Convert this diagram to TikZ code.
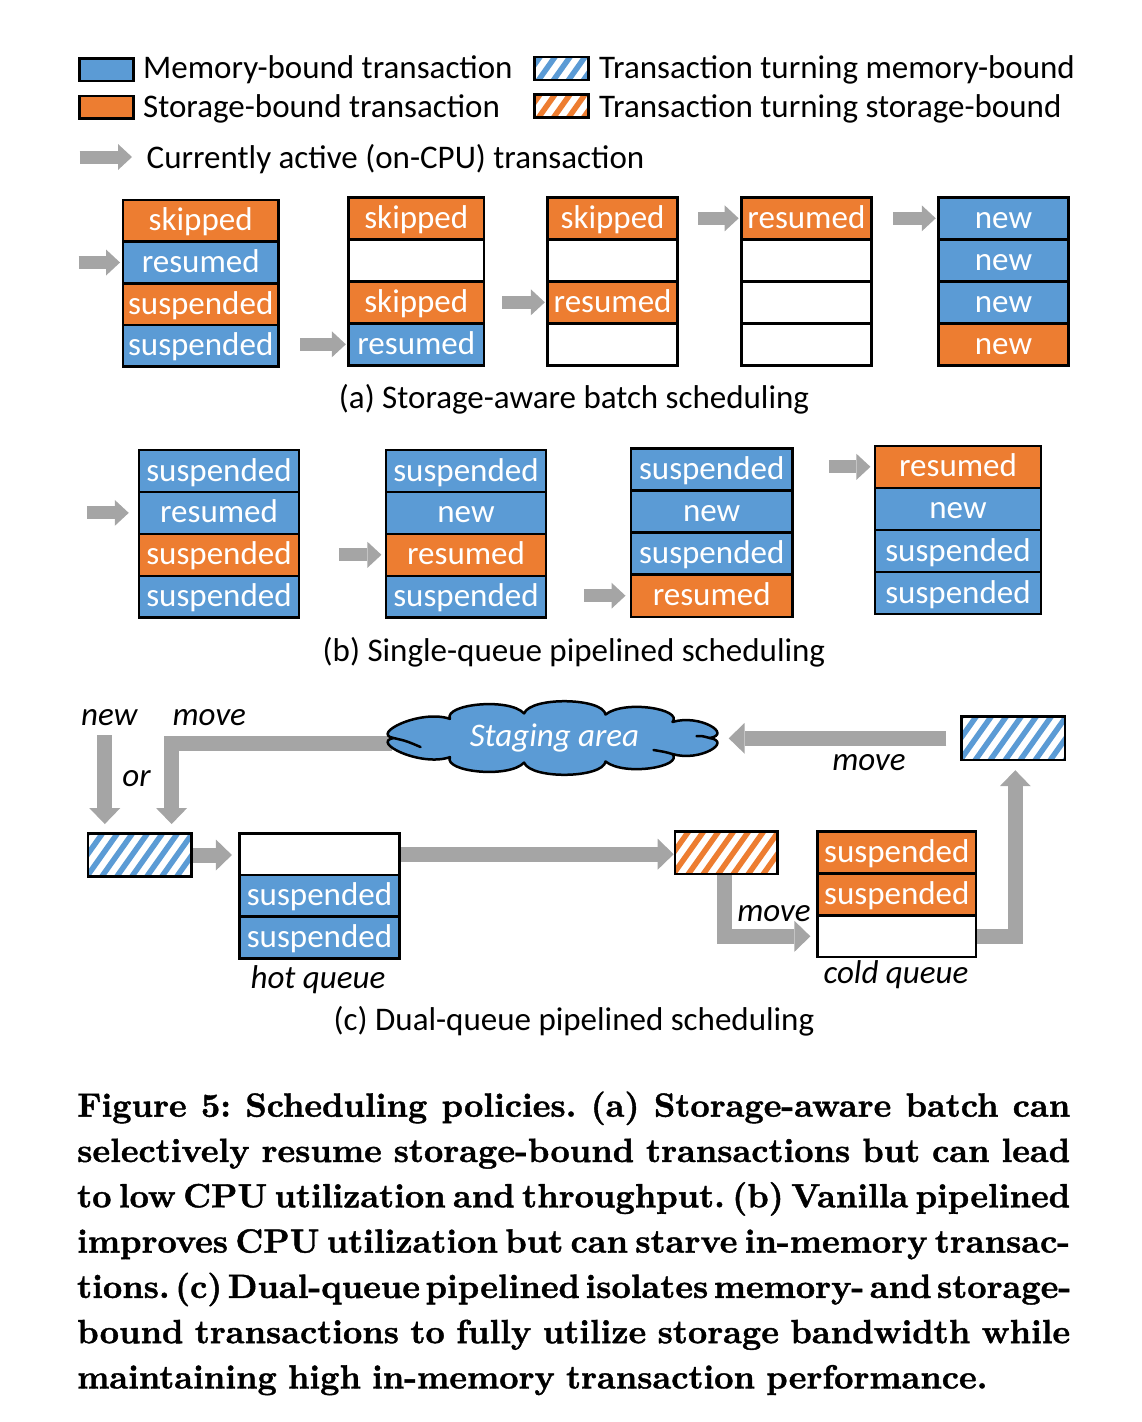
\documentclass[tikz,border=0pt]{standalone}
\usepackage{fontspec}
\newfontfamily\calibri{Carlito}
\newfontfamily\capserif{lmroman10-bold}[Extension=.otf, FakeBold=1.2]
\usetikzlibrary{arrows.meta,backgrounds,calc}
\definecolor{mblue}{HTML}{5B9BD5}
\definecolor{sorange}{HTML}{ED7D31}
\definecolor{agray}{HTML}{A5A5A5}
\newcommand{\dfont}{\calibri\fontsize{33}{40}\selectfont}
\newcommand{\cfont}{\capserif\fontsize{33.6}{45.3}\selectfont\frenchspacing\spaceskip=0.333em plus 1em minus 0.17em\relax}
\begin{document}
\begin{tikzpicture}[x=1pt,y=-1pt,
  cell/.style={draw=black, line width=2.5pt, inner sep=0pt, text=white, font=\dfont, text height=25pt, text depth=5pt},
  cb/.style={cell, fill=mblue},
  co/.style={cell, fill=sorange},
  ce/.style={cell, fill=white},
  sz/.style 2 args={minimum width=#1pt, minimum height=#2pt},
  hatch/.style={draw=black, line width=2.5pt, fill=white, inner sep=0pt,
    path picture={\foreach \k in {-10,...,10}{\draw[draw=#1, line width=5.5pt] ([xshift=\k*15pt, yshift=-10pt]path picture bounding box.south) -- ++(44pt,62pt);}}},
  legbox/.style={draw=black, line width=2.5pt, inner sep=0pt, minimum width=54pt, minimum height=22.5pt},
  lab/.style={font=\dfont, inner sep=0pt, anchor=base west},
  ilab/.style={font=\dfont\itshape, inner sep=0pt, anchor=base},
  sub/.style={font=\dfont, inner sep=0pt, anchor=base},
  capl/.style={font=\cfont, inner sep=0pt, anchor=base west},
  sarrow/.style={draw=agray, line width=13pt, -{Triangle[width=26pt,length=14pt,line width=0pt]}},
  carrow/.style={draw=agray, line width=15pt, line join=miter, -{Triangle[width=31pt,length=16pt,line width=0pt]}},
  cloudline/.style={draw=black, line width=2.5pt, line cap=round},
  cloudbody/.style={draw=black, line width=2.5pt, fill=mblue, line join=round}
]
\useasboundingbox (0,0) rectangle (1142,1422);

% ---------- legend ----------
\node[legbox, fill=mblue] (lgm) at (106.5,69.5) {};
\node[lab] (lgmt) at (143,78) {Memory-bound transaction};
\node[legbox, fill=sorange] (lgs) at (106.5,107) {};
\node[lab] (lgst) at (143,117.5) {Storage-bound transaction};
\node[hatch=mblue, sz={54}{23}] (lghm) at (561.5,68.5) {};
\node[lab] (lghmt) at (599,78) {Transaction turning memory-bound};
\node[hatch=sorange, sz={54}{23}] (lghs) at (561.5,106) {};
\node[lab] (lghst) at (599,117.5) {Transaction turning storage-bound};
\coordinate (lga1) at (79.6,157);
\coordinate (lga2) at (132,157);
\draw[sarrow] (lga1) -- (lga2);
\node[lab] (lgat) at (146.5,168) {Currently active (on-CPU) transaction};

% ---------- (a) ----------
\node[co, sz={155.8}{41.7}] (a1c1) at (200.7,220.8) {skipped};
\node[cb, sz={155.8}{41.7}] (a1c2) at (200.7,262.5) {resumed};
\node[co, sz={155.8}{41.7}] (a1c3) at (200.7,304.2) {suspended};
\node[cb, sz={155.8}{41.7}] (a1c4) at (200.7,345.8) {suspended};

\node[co, sz={135.4}{42}] (a2c1) at (416.3,218.3) {skipped};
\node[ce, sz={135.4}{42}] (a2c2) at (416.3,260.3) {};
\node[co, sz={135.4}{42}] (a2c3) at (416.3,302.3) {skipped};
\node[cb, sz={135.4}{42}] (a2c4) at (416.3,344.3) {resumed};

\node[co, sz={130}{42}] (a3c1) at (612.6,218.3) {skipped};
\node[ce, sz={130}{42}] (a3c2) at (612.6,260.3) {};
\node[co, sz={130}{42}] (a3c3) at (612.6,302.3) {resumed};
\node[ce, sz={130}{42}] (a3c4) at (612.6,344.3) {};

\node[co, sz={130}{42}] (a4c1) at (806.4,218.3) {resumed};
\node[ce, sz={130}{42}] (a4c2) at (806.4,260.3) {};
\node[ce, sz={130}{42}] (a4c3) at (806.4,302.3) {};
\node[ce, sz={130}{42}] (a4c4) at (806.4,344.3) {};

\node[cb, sz={130}{42}] (a5c1) at (1003.5,218.3) {new};
\node[cb, sz={130}{42}] (a5c2) at (1003.5,260.3) {new};
\node[cb, sz={130}{42}] (a5c3) at (1003.5,302.3) {new};
\node[co, sz={130}{42}] (a5c4) at (1003.5,344.3) {new};

\draw[sarrow, shorten >=1.5pt] ($(a1c2.west)+(-43,0)$) coordinate (aa1) -- (a1c2.west);
\draw[sarrow, shorten >=1.5pt] ($(a2c4.west)+(-47,0)$) coordinate (aa2) -- (a2c4.west);
\draw[sarrow, shorten >=1.5pt] ($(a3c3.west)+(-44,0)$) coordinate (aa3) -- (a3c3.west);
\draw[sarrow, shorten >=1.5pt] ($(a4c1.west)+(-42,0)$) coordinate (aa4) -- (a4c1.west);
\draw[sarrow, shorten >=1.5pt] ($(a5c1.west)+(-44.4,0)$) coordinate (aa5) -- (a5c1.west);

\node[sub] (capa) at (574,408) {(a) Storage-aware batch scheduling};

% ---------- (b) ----------
\node[cb, sz={160}{41.9}] (b1c1) at (219,471) {suspended};
\node[cb, sz={160}{41.9}] (b1c2) at (219,512.9) {resumed};
\node[co, sz={160}{41.9}] (b1c3) at (219,554.8) {suspended};
\node[cb, sz={160}{41.9}] (b1c4) at (219,596.7) {suspended};

\node[cb, sz={160}{41.9}] (b2c1) at (466,471) {suspended};
\node[cb, sz={160}{41.9}] (b2c2) at (466,512.9) {new};
\node[co, sz={160}{41.9}] (b2c3) at (466,554.8) {resumed};
\node[cb, sz={160}{41.9}] (b2c4) at (466,596.7) {suspended};

\node[cb, sz={161.3}{42.1}] (b3c1) at (711.7,469.4) {suspended};
\node[cb, sz={161.3}{42.1}] (b3c2) at (711.7,511.5) {new};
\node[cb, sz={161.3}{42.1}] (b3c3) at (711.7,553.6) {suspended};
\node[co, sz={161.3}{42.1}] (b3c4) at (711.7,595.7) {resumed};

\node[co, sz={166}{42.1}] (b4c1) at (958,466.8) {resumed};
\node[cb, sz={166}{42.1}] (b4c2) at (958,508.9) {new};
\node[cb, sz={166}{42.1}] (b4c3) at (958,551) {suspended};
\node[cb, sz={166}{42.1}] (b4c4) at (958,593.1) {suspended};

\draw[sarrow, shorten >=9pt] ($(b1c2.west)+(-51,0)$) coordinate (ba1) -- (b1c2.west);
\draw[sarrow, shorten >=3.3pt] ($(b2c3.west)+(-46,0)$) coordinate (ba2) -- (b2c3.west);
\draw[sarrow, shorten >=4.3pt] ($(b3c4.west)+(-46,0)$) coordinate (ba3) -- (b3c4.west);
\draw[sarrow, shorten >=3.3pt] ($(b4c1.west)+(-45,0)$) coordinate (ba4) -- (b4c1.west);

\node[sub] (capb) at (574,661) {(b) Single-queue pipelined scheduling};

% ---------- (c) ----------
\node[hatch=mblue, sz={103.5}{43.4}] (hb1) at (139.6,855) {};
\node[ce, sz={159.7}{41.7}] (hq1) at (319.5,854.2) {};
\node[cb, sz={159.7}{41.7}] (hq2) at (319.5,895.8) {suspended};
\node[cb, sz={159.7}{41.7}] (hq3) at (319.5,937.5) {suspended};
\node[hatch=sorange, sz={102.7}{42.3}] (ho) at (726.3,852.8) {};
\node[co, sz={158.3}{41.7}] (cq1) at (896.8,852.5) {suspended};
\node[co, sz={158.3}{41.7}] (cq2) at (896.8,894.5) {suspended};
\node[ce, sz={158.3}{41.7}] (cq3) at (896.8,936.3) {};
\node[hatch=mblue, sz={103.3}{43.3}] (hb2) at (1013.3,738.3) {};

% staging area: anchor frame, cloud outline, inner strokes, label
\node[inner sep=0pt, minimum width=338pt, minimum height=75pt] (stage) at (551.5,738) {};
\draw[cloudbody] ($(stage.center)+(0:158 and 25)$)
  \foreach \ta/\tb in {0/40,40/70,70/100,100/130,130/180,180/230,230/260,260/290,290/320,320/360}{
    .. controls ($(stage.center)+({\ta+0.12*(\tb-\ta)}:182 and 42)$) and ($(stage.center)+({\tb-0.12*(\tb-\ta)}:182 and 42)$) .. ($(stage.center)+(\tb:158 and 25)$)
  } -- cycle;
\draw[cloudline] ($(stage.center)+(180:158 and 25)$) .. controls ($(stage.center)+(-145,3)$) .. ($(stage.center)+(-131,9)$);
\draw[cloudline] ($(stage.center)+(0:158 and 25)$) .. controls ($(stage.center)+(151,-2)$) .. ($(stage.center)+(145,-2)$);
\draw[cloudline] ($(stage.center)+(40:158 and 25)$) .. controls ($(stage.center)+(114,14)$) .. ($(stage.center)+(102,12)$);
\node[font=\dfont\itshape, text=white, inner sep=0pt] (stagetext) at ($(stage.center)+(3,0)$) {Staging area};

\node[ilab] (lnew) at (109.3,725) {new};
\node[ilab] (lmove1) at (209.3,725) {move};
\node[ilab] (lor) at (136.5,786.7) {or};
\node[ilab] (lmove2) at (869,770) {move};
\node[ilab] (lmove3) at (774,921) {move};
\node[ilab] (lhot) at (318,988) {hot queue};
\node[ilab] (lcold) at (896,983) {cold queue};
\node[sub] (capc) at (574,1030) {(c) Dual-queue pipelined scheduling};

\begin{scope}[on background layer]
\coordinate (newsrc) at (104.8,735);
\draw[carrow, shorten >=8pt] (newsrc) -- (newsrc |- hb1.north);
\draw[carrow, shorten >=8pt] ($(stage.west)+(10,5)$) -| ($(hb1.north east)+(-21,0)$);
\draw[carrow, shorten >=6.5pt] (hb1.east) -- (hb1.east -| hq1.west);
\draw[carrow] (hq1.east) -- (hq1.east -| ho.west);
\draw[carrow, shorten >=6pt] ($(ho.south)+(-2,0)$) |- (cq3.west);
\draw[carrow, shorten >=9pt] (cq3.east) -| ($(hb2.south)+(2,0)$);
\draw[carrow, shorten <=14pt, shorten >=8pt] (hb2.west) -- (hb2.west -| stage.east);
\end{scope}

% ---------- caption ----------
\node[capl] (cap1) at (77,1116.7) {\makebox[993pt][s]{Figure 5: Scheduling policies. (a) Storage-aware batch can}};
\node[capl] (cap2) at (77,1162) {\makebox[993pt][s]{selectively resume storage-bound transactions but can lead}};
\node[capl] (cap3) at (77,1207.3) {\makebox[993pt][s]{to low CPU utilization and throughput. (b) Vanilla pipelined}};
\node[capl] (cap4) at (77,1252.6) {\makebox[993pt][s]{improves CPU utilization but can starve in-memory transac-}};
\node[capl] (cap5) at (77,1297.9) {\makebox[993pt][s]{tions. (c) Dual-queue pipelined isolates memory- and storage-}};
\node[capl] (cap6) at (77,1343.2) {\makebox[993pt][s]{bound transactions to fully utilize storage bandwidth while}};
\node[capl] (cap7) at (77,1388.5) {maintaining high in-memory transaction performance.};
\end{tikzpicture}
\end{document}
